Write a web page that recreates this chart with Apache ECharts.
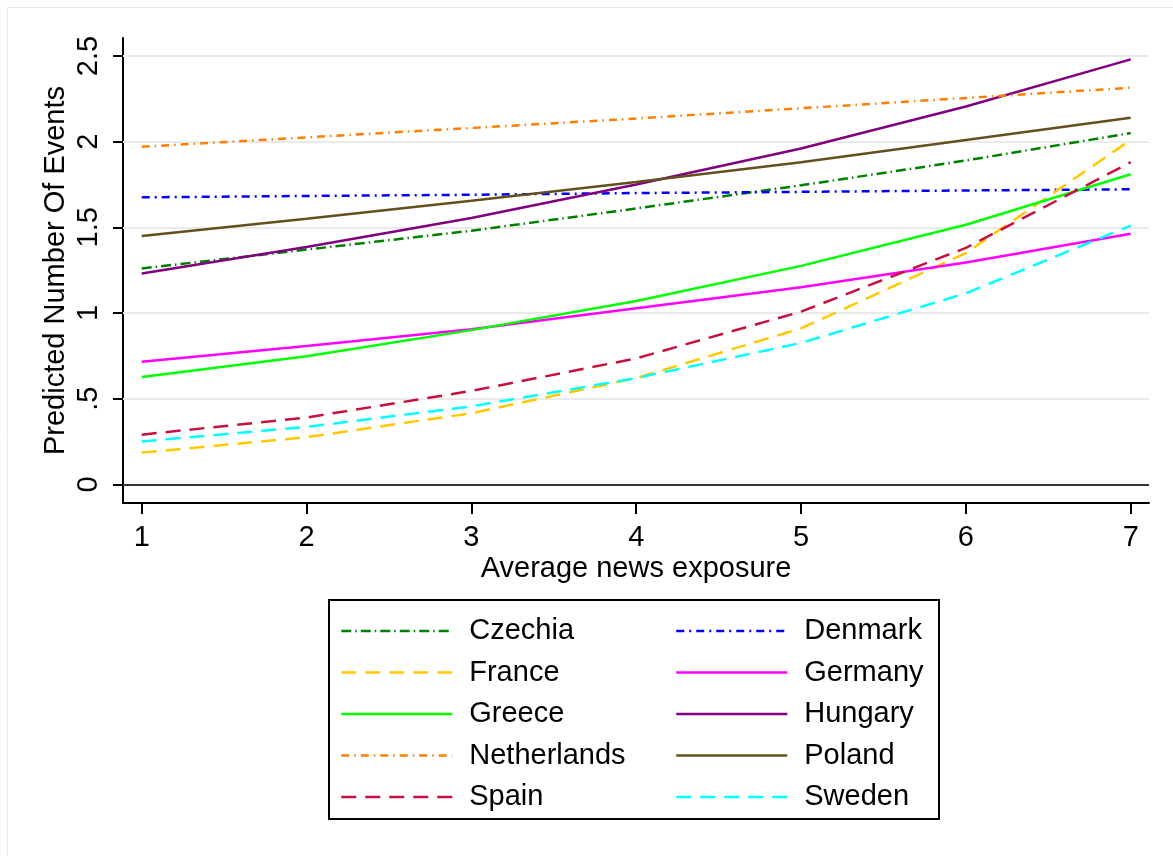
<!DOCTYPE html>
<html>
<head>
<meta charset="utf-8">
<script src="https://cdn.jsdelivr.net/npm/echarts@6/dist/echarts.min.js"></script>
<style>
html,body{margin:0;padding:0;background:#fff;}
#c{width:1173px;height:856px;}
</style>
</head>
<body>
<div id="c"></div>
<script>
const xValues = [1, 2, 3, 4, 5, 6, 7];
const countries = ['Czechia','Denmark','France','Germany','Greece','Hungary','Netherlands','Poland','Spain','Sweden'];
const czechia     = [1.26, 1.37, 1.48, 1.61, 1.745, 1.89, 2.05];
const denmark     = [1.675, 1.683, 1.69, 1.70, 1.707, 1.715, 1.722];
const france      = [0.185, 0.275, 0.415, 0.62, 0.91, 1.35, 2.01];
const germany     = [0.715, 0.808, 0.905, 1.028, 1.15, 1.295, 1.462];
const greece      = [0.627, 0.748, 0.90, 1.07, 1.275, 1.515, 1.81];
const hungary     = [1.23, 1.385, 1.555, 1.75, 1.96, 2.205, 2.48];
const netherlands = [1.97, 2.025, 2.08, 2.135, 2.195, 2.255, 2.315];
const poland      = [1.45, 1.55, 1.655, 1.765, 1.88, 2.01, 2.14];
const spain       = [0.29, 0.39, 0.545, 0.735, 1.008, 1.38, 1.88];
const sweden      = [0.25, 0.335, 0.455, 0.62, 0.825, 1.115, 1.51];
const yTicks = [0, 0.5, 1, 1.5, 2, 2.5];
const yTickLabels = ['0', '.5', '1', '1.5', '2', '2.5'];
const xTicks = [1, 2, 3, 4, 5, 6, 7];

const values = [czechia, denmark, france, germany, greece, hungary, netherlands, poland, spain, sweden];
const colors = ['#008000','#0000ff','#ffc800','#ff00ff','#00ff00','#800080','#ff7f00','#644f1e','#c8103c','#00ffff'];
const dashes = [[10,4,1.5,4],[8,5,2,5],[15,9],'solid','solid','solid',[8,5,1.5,5],'solid',[15,9],[15,9]];

const FONT = '"Liberation Sans", Arial, Helvetica, sans-serif';
const FS = 29;

const series = countries.map((name, i) => ({
  name: name,
  type: 'line',
  data: xValues.map((x, j) => [x, values[i][j]]),
  symbol: 'none',
  smooth: false,
  z: 4,
  lineStyle: { color: colors[i], width: 2.5, type: dashes[i], cap: 'butt' },
  itemStyle: { color: colors[i] },
  emphasis: { disabled: true },
  animation: false
}));

// gridlines and zero line
series.push({
  name: '_grid',
  type: 'line',
  data: [],
  symbol: 'none',
  silent: true,
  z: 1,
  markLine: {
    z: 1,
    silent: true,
    symbol: 'none',
    label: { show: false },
    animation: false,
    lineStyle: { color: '#eaeaea', width: 2, type: 'solid' },
    emphasis: { disabled: true },
    data: yTicks.filter(v => v !== 0).map(v => ({ yAxis: v }))
  }
});
series.push({
  name: '_zero',
  type: 'line',
  data: [],
  symbol: 'none',
  silent: true,
  z: 2,
  markLine: {
    z: 2,
    silent: true,
    symbol: 'none',
    label: { show: false },
    animation: false,
    lineStyle: { color: '#333333', width: 2, type: 'solid' },
    emphasis: { disabled: true },
    data: [{ yAxis: 0 }]
  }
});

const legendCommon = {
  orient: 'vertical',
  itemWidth: 111,
  itemHeight: 14,
  itemGap: 11.5,
  selectedMode: false,
  itemStyle: { opacity: 0 },
  lineStyle: { width: 2.5 },
  textStyle: { fontFamily: FONT, fontSize: FS, color: '#000', lineHeight: 30, padding: [0, 0, 0, 12] }
};

const chart = echarts.init(document.getElementById('c'), null, { renderer: 'canvas' });
chart.setOption({
  animation: false,
  backgroundColor: '#ffffff',
  textStyle: { fontFamily: FONT },
  grid: { left: 123, top: 38, right: 24, bottom: 353, containLabel: false, outerBoundsMode: 'none' },
  xAxis: {
    type: 'value',
    min: 0.8865,
    max: 7.111,
    name: 'Average news exposure',
    nameLocation: 'middle',
    nameGap: 51,
    nameMoveOverlap: false,
    nameTextStyle: { fontFamily: FONT, fontSize: FS, color: '#000' },
    axisLine: { show: true, onZero: false, lineStyle: { color: '#000', width: 2 } },
    axisTick: { show: true, length: 11, customValues: xTicks, lineStyle: { color: '#000', width: 2 } },
    axisLabel: { show: true, customValues: xTicks, margin: 20, fontFamily: FONT, fontSize: FS, color: '#000' },
    splitLine: { show: false }
  },
  yAxis: {
    type: 'value',
    min: -0.109,
    max: 2.605,
    name: 'Predicted Number Of Events',
    nameLocation: 'middle',
    nameGap: 53,
    nameMoveOverlap: false,
    nameRotate: 90,
    nameTextStyle: { fontFamily: FONT, fontSize: FS, color: '#000' },
    axisLine: { show: true, onZero: false, lineStyle: { color: '#000', width: 2 } },
    axisTick: { show: true, length: 10, customValues: yTicks, lineStyle: { color: '#000', width: 2 } },
    axisLabel: {
      show: true, customValues: yTicks, rotate: 90, margin: 20,
      fontFamily: FONT, fontSize: FS, color: '#000',
      formatter: function (v) { const k = yTicks.indexOf(v); return k >= 0 ? yTickLabels[k] : String(v); }
    },
    splitLine: { show: false }
  },
  legend: [
    Object.assign({}, legendCommon, { left: 335, top: 611, data: ['Czechia','France','Greece','Netherlands','Spain'] }),
    Object.assign({}, legendCommon, { left: 670, top: 611, data: ['Denmark','Germany','Hungary','Poland','Sweden'] })
  ],
  graphic: [
    { type: 'rect', silent: true, z: 0, shape: { x: 7.5, y: 7.5, width: 1200, height: 900 }, style: { fill: 'none', stroke: '#e8e8e8', lineWidth: 1 } },
    { type: 'rect', silent: true, z: 10, shape: { x: 329, y: 600, width: 610, height: 219 }, style: { fill: 'none', stroke: '#000', lineWidth: 2 } }
  ],
  series: series
});
</script>
</body>
</html>
